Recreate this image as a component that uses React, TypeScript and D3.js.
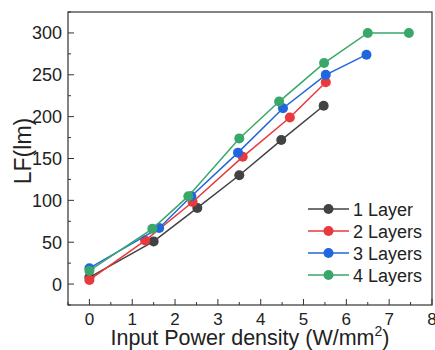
import { useRef, useEffect } from "react";
import * as d3 from "d3";

const seriesNames = ["1 Layer", "2 Layers", "3 Layers", "4 Layers"];
const seriesColors = ["#424242", "#e8393c", "#2166dc", "#3aa76a"];

const layer1X = [0, 1.5, 2.52, 3.5, 4.48, 5.47];
const layer1Y = [8, 51, 91, 130, 172, 213];
const layer2X = [0, 1.3, 2.41, 3.58, 4.68, 5.52];
const layer2Y = [5, 52, 98, 152, 199, 241];
const layer3X = [0, 1.63, 2.38, 3.47, 4.52, 5.52, 6.47];
const layer3Y = [19, 67, 105, 157, 210, 250, 274];
const layer4X = [0, 1.47, 2.31, 3.5, 4.43, 5.48, 6.5, 7.46];
const layer4Y = [16, 66, 105, 174, 218, 264, 300, 300];

const xTicks = [0, 1, 2, 3, 4, 5, 6, 7, 8];
const yTicks = [0, 50, 100, 150, 200, 250, 300];

const App = () => {
  const svgRef = useRef<SVGSVGElement>(null);

  useEffect(() => {
    const svg = d3.select(svgRef.current);
    svg.selectAll("*").remove();

    const left = 68, right = 432, top = 12, bottom = 305;
    const font = "Liberation Sans, Arial, sans-serif";

    const x = d3.scaleLinear().domain([-0.5, 8]).range([left, right]);
    const y = d3.scaleLinear().domain([-25, 325]).range([bottom, top]);

    const series = [
      { xs: layer1X, ys: layer1Y },
      { xs: layer2X, ys: layer2Y },
      { xs: layer3X, ys: layer3Y },
      { xs: layer4X, ys: layer4Y },
    ];

    // inward ticks, major + minor
    const xMinor = d3.range(-0.5, 8.01, 0.5);
    svg.append("g")
      .selectAll("line")
      .data(xMinor)
      .join("line")
      .attr("x1", (d) => x(d))
      .attr("x2", (d) => x(d))
      .attr("y1", bottom)
      .attr("y2", (d) => bottom - (Number.isInteger(d) ? 6 : 3))
      .attr("stroke", "#333")
      .attr("stroke-width", 1);

    const yMinor = d3.range(-25, 326, 25);
    svg.append("g")
      .selectAll("line")
      .data(yMinor)
      .join("line")
      .attr("x1", left)
      .attr("x2", (d) => left + (d % 50 === 0 ? 6 : 3))
      .attr("y1", (d) => y(d))
      .attr("y2", (d) => y(d))
      .attr("stroke", "#333")
      .attr("stroke-width", 1);

    svg.append("rect")
      .attr("x", left)
      .attr("y", top)
      .attr("width", right - left)
      .attr("height", bottom - top)
      .attr("fill", "none")
      .attr("stroke", "#333")
      .attr("stroke-width", 1.2);

    svg.append("g")
      .selectAll("text")
      .data(xTicks)
      .join("text")
      .attr("x", (d) => x(d))
      .attr("y", 325)
      .attr("text-anchor", "middle")
      .attr("font-family", font)
      .attr("font-size", 17)
      .attr("fill", "#222")
      .text((d) => d);

    svg.append("g")
      .selectAll("text")
      .data(yTicks)
      .join("text")
      .attr("x", left - 6)
      .attr("y", (d) => y(d) + 6.5)
      .attr("text-anchor", "end")
      .attr("font-family", font)
      .attr("font-size", 18)
      .attr("fill", "#222")
      .text((d) => d);

    const xt = svg.append("text")
      .attr("x", 250)
      .attr("y", 345)
      .attr("text-anchor", "middle")
      .attr("font-family", font)
      .attr("font-size", 21.5)
      .attr("fill", "#222");
    xt.append("tspan").text("Input Power density (W/mm");
    xt.append("tspan").attr("font-size", 14).attr("dy", -9).text("2");
    xt.append("tspan").attr("dy", 9).text(")");

    svg.append("text")
      .attr("transform", "translate(31,151) rotate(-90)")
      .attr("text-anchor", "middle")
      .attr("font-family", font)
      .attr("font-size", 23)
      .attr("fill", "#222")
      .text("LF(lm)");

    series.forEach((s, i) => {
      const pts = s.xs.map((v, j) => [x(v), y(s.ys[j])] as [number, number]);
      svg.append("path")
        .attr("d", d3.line()(pts))
        .attr("fill", "none")
        .attr("stroke", seriesColors[i])
        .attr("stroke-width", 1.5);
      svg.append("g")
        .selectAll("circle")
        .data(pts)
        .join("circle")
        .attr("cx", (d) => d[0])
        .attr("cy", (d) => d[1])
        .attr("r", 5)
        .attr("fill", seriesColors[i]);
    });

    // legend
    const lg = svg.append("g");
    seriesNames.forEach((name, i) => {
      const ly = 209 + i * 22;
      lg.append("line")
        .attr("x1", 308)
        .attr("x2", 349)
        .attr("y1", ly)
        .attr("y2", ly)
        .attr("stroke", seriesColors[i])
        .attr("stroke-width", 1.5);
      lg.append("circle")
        .attr("cx", 328.5)
        .attr("cy", ly)
        .attr("r", 5)
        .attr("fill", seriesColors[i]);
      lg.append("text")
        .attr("x", 353)
        .attr("y", ly + 6.5)
        .attr("font-family", font)
        .attr("font-size", 18)
        .attr("fill", "#222")
        .text(name);
    });
  }, []);

  return (
    <svg
      ref={svgRef}
      width={435}
      height={350}
      style={{ position: "absolute", left: 0, top: 0, background: "#fff" }}
    />
  );
};

export default App;
